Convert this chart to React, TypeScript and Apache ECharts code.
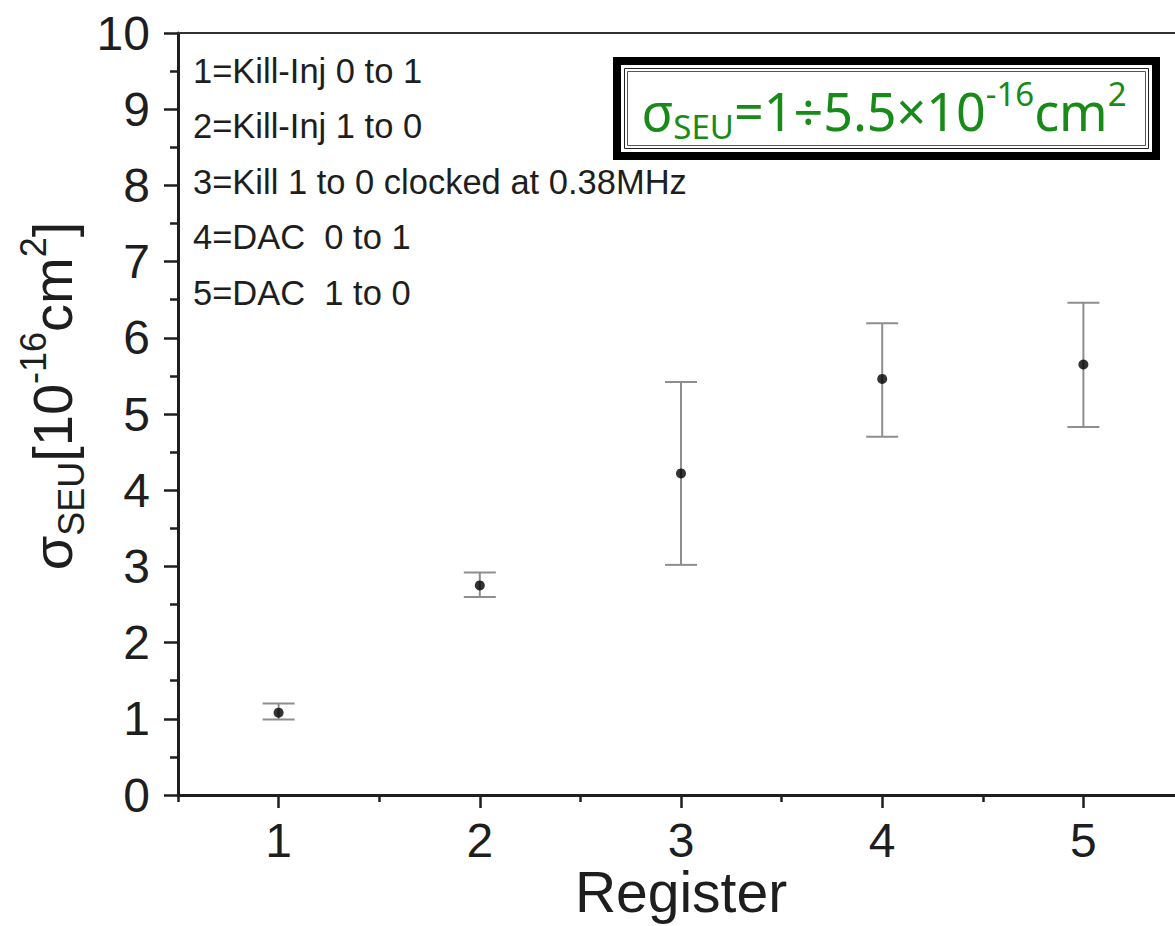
import React, { useEffect, useRef } from "react";
import * as echarts from "echarts";

const registers = [1, 2, 3, 4, 5];
const sigmaValues = [1.08, 2.75, 4.22, 5.46, 5.65];
const errLow = [0.99, 2.6, 3.02, 4.7, 4.83];
const errHigh = [1.2, 2.92, 5.42, 6.19, 6.46];
const xMajorTicks = [1, 2, 3, 4, 5];
const xMinorTicks = [0.5, 1.5, 2.5, 3.5, 4.5, 5.5];
const legendLines = [
  "1=Kill-Inj 0 to 1",
  "2=Kill-Inj 1 to 0",
  "3=Kill 1 to 0 clocked at 0.38MHz",
  "4=DAC  0 to 1",
  "5=DAC  1 to 0",
];
const xAxisTitle = "Register";

const AXIS_FONT = "'Liberation Sans', Arial, sans-serif";
const GREEN_FONT = "'Noto Sans', sans-serif";
const INK = "#1e1e1e";
const GREEN = "#178a17";

export default function App() {
  const ref = useRef<HTMLDivElement>(null);

  useEffect(() => {
    if (!ref.current) return;
    const chart = echarts.init(ref.current, undefined, { renderer: "svg" });

    const pointData = registers.map((r, i) => [r, sigmaValues[i]]);
    const errData = registers.map((r, i) => [r, errLow[i], errHigh[i]]);

    const option: any = {
      animation: false,
      backgroundColor: "#ffffff",
      grid: { left: 178, top: 33, width: 1006, height: 762, containLabel: false, outerBoundsMode: "none" },
      xAxis: [
        {
          type: "value",
          min: 0.5,
          max: 5.5,
          position: "bottom",
          splitLine: { show: false },
          axisLine: { show: true, onZero: false, lineStyle: { color: INK, width: 3 } },
          axisTick: {
            show: true,
            customValues: xMajorTicks,
            length: 13,
            lineStyle: { color: INK, width: 2.5 },
          },
          axisLabel: {
            customValues: xMajorTicks,
            fontSize: 48,
            fontFamily: AXIS_FONT,
            color: INK,
            margin: 21,
          },
        },
        {
          type: "value",
          min: 0.5,
          max: 5.5,
          position: "bottom",
          splitLine: { show: false },
          axisLine: { show: false, onZero: false },
          axisTick: {
            show: true,
            customValues: xMinorTicks,
            length: 7,
            lineStyle: { color: INK, width: 2.5 },
          },
          axisLabel: { show: false },
        },
        {
          type: "value",
          min: 0.5,
          max: 5.5,
          position: "top",
          splitLine: { show: false },
          axisLine: { show: true, onZero: false, lineStyle: { color: "#333", width: 2 } },
          axisTick: { show: false },
          axisLabel: { show: false },
        },
      ],
      yAxis: [
        {
          type: "value",
          min: 0,
          max: 10,
          interval: 1,
          splitLine: { show: false },
          axisLine: { show: true, onZero: false, lineStyle: { color: INK, width: 3 } },
          axisTick: { show: true, length: 14, lineStyle: { color: INK, width: 2.5 } },
          minorTick: { show: true, splitNumber: 2, length: 8, lineStyle: { color: INK, width: 2.5 } },
          axisLabel: {
            fontSize: 48,
            fontFamily: AXIS_FONT,
            color: INK,
            margin: 28,
          },
        },
        {
          type: "value",
          min: 0,
          max: 10,
          position: "right",
          splitLine: { show: false },
          axisLine: { show: true, onZero: false, lineStyle: { color: "#333", width: 2 } },
          axisTick: { show: false },
          axisLabel: { show: false },
        },
      ],
      series: [
        {
          type: "custom",
          xAxisIndex: 0,
          yAxisIndex: 0,
          data: errData,
          encode: { x: 0, y: [1, 2] },
          renderItem: (params: any, api: any) => {
            const x = api.value(0);
            const lo = api.coord([x, api.value(1)]);
            const hi = api.coord([x, api.value(2)]);
            const hw = 16;
            const st = { stroke: "#8e8e8e", lineWidth: 2 };
            return {
              type: "group",
              children: [
                { type: "line", shape: { x1: lo[0], y1: lo[1], x2: hi[0], y2: hi[1] }, style: st },
                { type: "line", shape: { x1: lo[0] - hw, y1: lo[1], x2: lo[0] + hw, y2: lo[1] }, style: st },
                { type: "line", shape: { x1: hi[0] - hw, y1: hi[1], x2: hi[0] + hw, y2: hi[1] }, style: st },
              ],
            };
          },
          z: 2,
        },
        {
          type: "scatter",
          xAxisIndex: 0,
          yAxisIndex: 0,
          data: pointData,
          symbol: "circle",
          symbolSize: 10,
          itemStyle: { color: "#000000" },
          z: 3,
        },
      ],
      graphic: [
        {
          type: "text",
          x: 681,
          y: 892,
          style: {
            text: xAxisTitle,
            align: "center",
            verticalAlign: "middle",
            fontSize: 57,
            fontFamily: AXIS_FONT,
            fill: INK,
          },
          z: 10,
        },
        {
          type: "text",
          x: 52,
          y: 396,
          rotation: Math.PI / 2,
          style: {
            text: "{s|σ}{sub|SEU}{m|[10}{sup|-16}{m|cm}{sup|2}{m|]}",
            align: "center",
            verticalAlign: "middle",
            rich: {
              s: { fontSize: 56, lineHeight: 74, fontFamily: AXIS_FONT, fill: INK },
              m: { fontSize: 56, lineHeight: 74, fontFamily: AXIS_FONT, fill: INK },
              sub: { fontSize: 36, lineHeight: 40, verticalAlign: "bottom", fontFamily: AXIS_FONT, fill: INK },
              sup: { fontSize: 36, lineHeight: 40, verticalAlign: "top", fontFamily: AXIS_FONT, fill: INK },
            },
          },
          z: 10,
        },
        {
          type: "text",
          left: 193,
          top: 43,
          style: {
            text: legendLines.join("\n"),
            fontSize: 34.5,
            lineHeight: 55.5,
            fontFamily: AXIS_FONT,
            fill: INK,
          },
          z: 10,
        },
        {
          type: "rect",
          shape: { x: 617, y: 61, width: 539, height: 95 },
          style: { fill: "#ffffff", stroke: "#000000", lineWidth: 8 },
          z: 10,
        },
        {
          type: "rect",
          shape: { x: 624.5, y: 68.5, width: 524, height: 80 },
          style: { fill: "none", stroke: "#222", lineWidth: 1 },
          z: 11,
        },
        {
          type: "rect",
          shape: { x: 627.5, y: 71.5, width: 518, height: 74 },
          style: { fill: "none", stroke: "#555", lineWidth: 1 },
          z: 11,
        },
        {
          type: "text",
          x: 884,
          y: 110,
          style: {
            text: "{s|σ}{sub|SEU}{m|=1÷5.5×10}{sup|-16}{m|cm}{sup|2}",
            align: "center",
            verticalAlign: "middle",
            rich: {
              s: { fontSize: 52, lineHeight: 66, fontFamily: GREEN_FONT, fill: GREEN },
              m: { fontSize: 52, lineHeight: 66, fontFamily: GREEN_FONT, fill: GREEN },
              sub: { fontSize: 33, lineHeight: 37, verticalAlign: "bottom", fontFamily: GREEN_FONT, fill: GREEN },
              sup: { fontSize: 33, lineHeight: 37, verticalAlign: "top", fontFamily: GREEN_FONT, fill: GREEN },
            },
          },
          z: 12,
        },
      ],
    };

    chart.setOption(option);
    return () => chart.dispose();
  }, []);

  return (
    <div
      style={{
        position: "fixed",
        left: 0,
        top: 0,
        width: 1175,
        height: 926,
        overflow: "hidden",
        background: "#ffffff",
      }}
    >
      <div ref={ref} style={{ width: 1200, height: 926 }} />
    </div>
  );
}
